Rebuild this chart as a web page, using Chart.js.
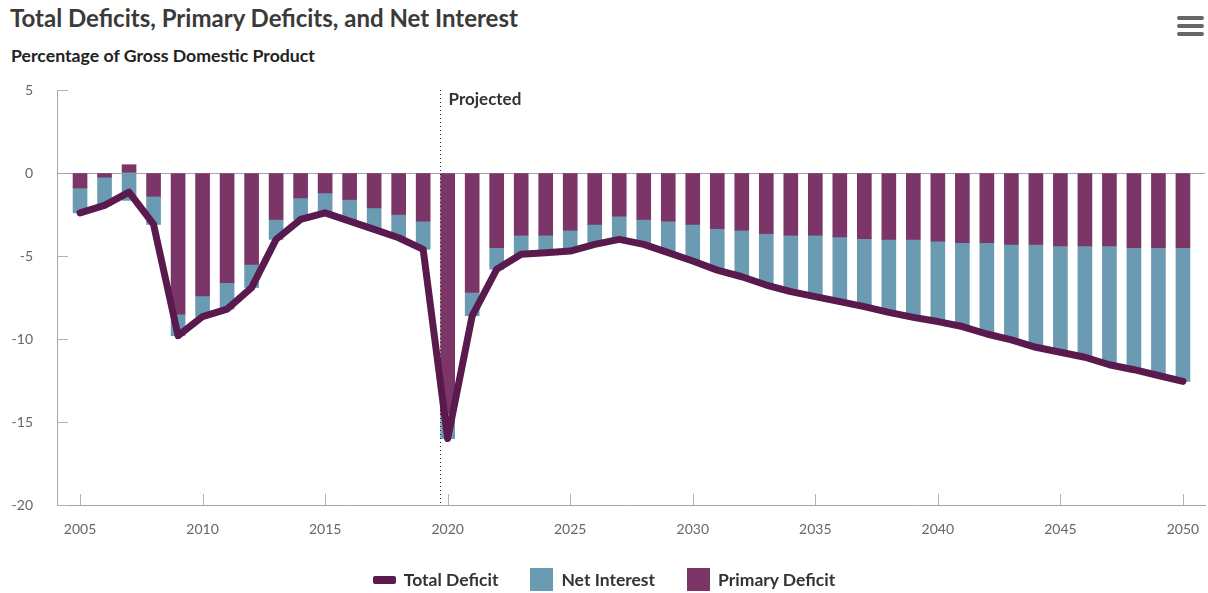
<!DOCTYPE html>
<html>
<head>
<meta charset="utf-8">
<script src="https://cdn.jsdelivr.net/npm/chart.js@4.4.1/dist/chart.umd.min.js"></script>
<style>
  html, body { margin: 0; padding: 0; background: #fff; }
  body { width: 1208px; height: 593px; position: relative; overflow: hidden; font-family: Lato, "Noto Sans", sans-serif; }
  #title { position: absolute; left: 10px; top: 3px; font-size: 24px; font-weight: 700; color: #3a3a3a; white-space: nowrap; }
  #subtitle { position: absolute; left: 11px; top: 45px; font-size: 17.7px; font-weight: 700; color: #222; white-space: nowrap; }
  #menu { position: absolute; left: 1177px; top: 16px; width: 27px; }
  #menu span { display: block; height: 4px; background: #666; border-radius: 2px; margin-bottom: 4px; }
  #wrap { position: absolute; left: 0; top: 0; width: 1208px; height: 593px; }
  #legend { position: absolute; left: 0; top: 568px; width: 1208px; display: flex; justify-content: center; align-items: center; font-size: 17.5px; font-weight: 700; color: #333; }
  .item { display: flex; align-items: center; margin: 0 16px; }
  .sw { display: inline-block; width: 23px; margin-right: 8px; }
</style>
</head>
<body>
<div id="title">Total Deficits, Primary Deficits, and Net Interest</div>
<div id="subtitle">Percentage of Gross Domestic Product</div>
<div id="menu"><span></span><span></span><span></span></div>
<div id="wrap"><canvas id="chart" width="1208" height="593"></canvas></div>
<div id="legend">
  <span class="item"><span class="sw" style="height:8px;background:#5a1a4e;border-radius:2px"></span>Total Deficit</span>
  <span class="item"><span class="sw" style="height:23px;background:#6a9bb3"></span>Net Interest</span>
  <span class="item"><span class="sw" style="height:23px;background:#7b3667"></span>Primary Deficit</span>
</div>
<script>
// ── Data (percent of GDP) ───────────────────────────
const years = [
  2005, 2006, 2007, 2008, 2009, 2010, 2011, 2012, 2013, 2014,
  2015, 2016, 2017, 2018, 2019, 2020, 2021, 2022, 2023, 2024,
  2025, 2026, 2027, 2028, 2029, 2030, 2031, 2032, 2033, 2034,
  2035, 2036, 2037, 2038, 2039, 2040, 2041, 2042, 2043, 2044,
  2045, 2046, 2047, 2048, 2049, 2050
];

const primaryDeficit = [
  -0.9, -0.25, 0.5, -1.4, -8.5, -7.4, -6.6, -5.5, -2.8, -1.5,
  -1.2, -1.6, -2.1, -2.5, -2.9, -14.5, -7.2, -4.5, -3.75, -3.75,
  -3.45, -3.1, -2.6, -2.8, -2.9, -3.1, -3.35, -3.45, -3.65, -3.75,
  -3.75, -3.85, -3.95, -4.0, -4.0, -4.1, -4.2, -4.2, -4.3, -4.3,
  -4.4, -4.4, -4.4, -4.5, -4.5, -4.5
];

const netInterest = [
  -1.5, -1.7, -1.65, -1.7, -1.3, -1.25, -1.6, -1.4, -1.2, -1.3,
  -1.2, -1.3, -1.3, -1.4, -1.7, -1.5, -1.4, -1.3, -1.15, -1.05,
  -1.25, -1.2, -1.4, -1.5, -1.9, -2.2, -2.5, -2.8, -3.1, -3.4,
  -3.7, -3.9, -4.1, -4.4, -4.7, -4.85, -5.05, -5.5, -5.75, -6.2,
  -6.4, -6.7, -7.15, -7.35, -7.7, -8.05
];

const totalDeficit = [
  -2.4, -1.95, -1.15, -3.1, -9.8, -8.65, -8.2, -6.9, -4.0, -2.8,
  -2.4, -2.9, -3.4, -3.9, -4.6, -16.0, -8.6, -5.8, -4.9, -4.8,
  -4.7, -4.3, -4.0, -4.3, -4.8, -5.3, -5.85, -6.25, -6.75, -7.15,
  -7.45, -7.75, -8.05, -8.4, -8.7, -8.95, -9.25, -9.7, -10.05, -10.5,
  -10.8, -11.1, -11.55, -11.85, -12.2, -12.55
];

const xTickYears = [2005, 2010, 2015, 2020, 2025, 2030, 2035, 2040, 2045, 2050];
const yTicks = [5, 0, -5, -10, -15, -20];
const projectedStart = 2019.7;

// ── Colours ─────────────────────────────────────────
const C = {
  primary:  "#7b3667",
  interest: "#6a9bb3",
  total:    "#5a1a4e",
  axis:     "#a6a6a6",
  tick:     "#666666",
};

const pts = arr => years.map((yr, i) => ({ x: yr, y: arr[i] }));

// inner tick marks + projection marker
const decorations = {
  id: "decorations",
  afterDraw(chart) {
    const { ctx, chartArea: a, scales: { x, y } } = chart;
    ctx.save();
    ctx.strokeStyle = "#b3b3b3";
    ctx.lineWidth = 1;
    xTickYears.forEach(v => {
      const px = Math.round(x.getPixelForValue(v)) + 0.5;
      ctx.beginPath(); ctx.moveTo(px, a.bottom); ctx.lineTo(px, a.bottom - 11); ctx.stroke();
    });
    yTicks.forEach(v => {
      if (v === 0) return;
      const py = Math.round(y.getPixelForValue(v)) + 0.5;
      ctx.beginPath(); ctx.moveTo(a.left, py); ctx.lineTo(a.left + 11, py); ctx.stroke();
    });
    // dotted "Projected" divider
    const px = Math.round(x.getPixelForValue(projectedStart)) + 0.5;
    ctx.strokeStyle = "#222";
    ctx.setLineDash([1, 3]);
    ctx.beginPath(); ctx.moveTo(px, a.top); ctx.lineTo(px, a.bottom); ctx.stroke();
    ctx.setLineDash([]);
    ctx.fillStyle = "#333";
    ctx.font = "700 17px Lato, 'Noto Sans', sans-serif";
    ctx.textBaseline = "middle";
    ctx.fillText("Projected", px + 8, a.top + 10);
    ctx.restore();
  },
};

new Chart(document.getElementById("chart"), {
  data: {
    datasets: [
      {
        type: "line", label: "Total Deficit", data: pts(totalDeficit),
        borderColor: C.total, borderWidth: 7, pointRadius: 0, tension: 0,
        borderJoinStyle: "round", borderCapStyle: "round", stack: "line", order: 0,
      },
      {
        type: "bar", label: "Primary Deficit", data: pts(primaryDeficit),
        backgroundColor: C.primary, barThickness: 14, stack: "deficit", order: 1,
      },
      {
        type: "bar", label: "Net Interest", data: pts(netInterest),
        backgroundColor: C.interest, barThickness: 14, stack: "deficit", order: 1,
      },
    ],
  },
  options: {
    responsive: false,
    animation: false,
    layout: { padding: { left: 0, top: 90, right: 3, bottom: 48 } },
    plugins: { legend: { display: false }, tooltip: { enabled: false } },
    scales: {
      x: {
        type: "linear", stacked: true, offset: false, min: 2004.06, max: 2050.9,
        afterBuildTicks: s => { s.ticks = xTickYears.map(v => ({ value: v })); },
        afterFit: s => { s.height = 40; s.paddingLeft = 0; s.paddingRight = 0; },
        grid: { display: false, drawTicks: false, offset: false },
        border: { display: true, color: C.axis, width: 1 },
        ticks: { color: C.tick, padding: 16, font: { family: "Lato, 'Noto Sans', sans-serif", size: 14 },
                 callback: v => String(v) },
      },
      y: {
        stacked: true, min: -20, max: 5,
        afterBuildTicks: s => { s.ticks = yTicks.map(v => ({ value: v })); },
        afterFit: s => { s.width = 57; },
        grid: {
          drawTicks: false,
          color: c => (c.tick && c.tick.value === 0 ? C.axis : "rgba(0,0,0,0)"),
        },
        border: { display: true, color: C.axis, width: 1 },
        ticks: { color: C.tick, padding: 24, font: { family: "Lato, 'Noto Sans', sans-serif", size: 14 } },
      },
    },
  },
  plugins: [decorations],
});
</script>
</body>
</html>
